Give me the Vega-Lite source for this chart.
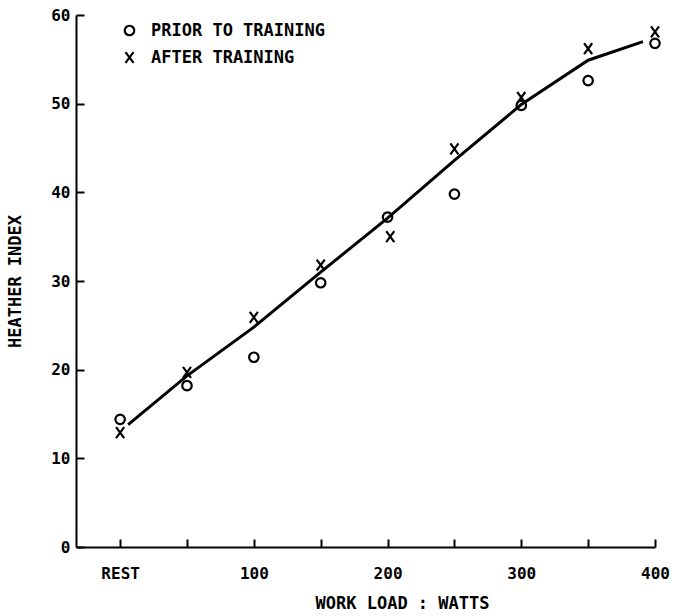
{
  "$schema": "https://vega.github.io/schema/vega-lite/v6.json",
  "width": 579,
  "height": 532,
  "autosize": {"type": "none"},
  "padding": {"left": 76, "top": 15, "right": 22, "bottom": 69},
  "background": "white",
  "config": {
    "view": {"stroke": null},
    "font": "DejaVu Sans Mono",
    "axis": {
      "domainColor": "black",
      "domainWidth": 2,
      "tickColor": "black",
      "tickWidth": 2,
      "tickSize": -8,
      "grid": false,
      "labelFont": "DejaVu Sans Mono",
      "labelFontSize": 16,
      "labelFontWeight": "bold",
      "labelColor": "black",
      "titleFont": "DejaVu Sans Mono",
      "titleFontSize": 17,
      "titleFontWeight": "bold",
      "titleColor": "black"
    }
  },
  "datasets": {
    "fit": [
      {"watts": 6, "index": 13.8},
      {"watts": 50, "index": 19.3},
      {"watts": 100, "index": 24.8},
      {"watts": 150, "index": 31.0},
      {"watts": 200, "index": 37.1},
      {"watts": 250, "index": 43.6},
      {"watts": 300, "index": 49.9},
      {"watts": 350, "index": 54.9},
      {"watts": 391, "index": 57.0}
    ],
    "obs": [
      {"watts": 0, "index": 14.4, "group": "PRIOR TO TRAINING"},
      {"watts": 50, "index": 18.2, "group": "PRIOR TO TRAINING"},
      {"watts": 100, "index": 21.4, "group": "PRIOR TO TRAINING"},
      {"watts": 150, "index": 29.8, "group": "PRIOR TO TRAINING"},
      {"watts": 200, "index": 37.2, "group": "PRIOR TO TRAINING"},
      {"watts": 250, "index": 39.8, "group": "PRIOR TO TRAINING"},
      {"watts": 300, "index": 49.8, "group": "PRIOR TO TRAINING"},
      {"watts": 350, "index": 52.6, "group": "PRIOR TO TRAINING"},
      {"watts": 400, "index": 56.8, "group": "PRIOR TO TRAINING"},
      {"watts": 0, "index": 12.9, "group": "AFTER TRAINING"},
      {"watts": 50, "index": 19.7, "group": "AFTER TRAINING"},
      {"watts": 100, "index": 25.9, "group": "AFTER TRAINING"},
      {"watts": 150, "index": 31.8, "group": "AFTER TRAINING"},
      {"watts": 202, "index": 35.0, "group": "AFTER TRAINING"},
      {"watts": 250, "index": 44.9, "group": "AFTER TRAINING"},
      {"watts": 300, "index": 50.7, "group": "AFTER TRAINING"},
      {"watts": 350, "index": 56.2, "group": "AFTER TRAINING"},
      {"watts": 400, "index": 58.1, "group": "AFTER TRAINING"}
    ]
  },
  "encoding": {
    "x": {
      "field": "watts",
      "type": "quantitative",
      "scale": {"domain": [-33, 400], "nice": false, "zero": false},
      "axis": {
        "title": "WORK LOAD : WATTS",
        "values": [0, 50, 100, 150, 200, 250, 300, 350, 400],
        "labelExpr": "datum.value == 0 ? 'REST' : (datum.value % 100 == 0 ? datum.label : '')",
        "labelPadding": 26,
        "labelFlush": false,
        "titleAnchor": "start",
        "titleX": 239,
        "titleY": 48,
        "titleBaseline": "top"
      }
    },
    "y": {
      "field": "index",
      "type": "quantitative",
      "scale": {"domain": [0, 60], "nice": false},
      "axis": {
        "title": "HEATHER INDEX",
        "values": [0, 10, 20, 30, 40, 50, 60],
        "labelPadding": 14,
        "labelFlush": false,
        "titlePadding": 26
      }
    }
  },
  "layer": [
    {
      "data": {"name": "fit"},
      "mark": {"type": "line", "color": "black", "strokeWidth": 3}
    },
    {
      "data": {"name": "obs"},
      "mark": {"type": "point", "filled": false, "color": "black", "strokeWidth": 2.2, "size": 90, "opacity": 1},
      "encoding": {
        "shape": {
          "field": "group",
          "type": "nominal",
          "scale": {
            "domain": ["PRIOR TO TRAINING", "AFTER TRAINING"],
            "range": ["circle", "M-0.85,-1.15L0.85,1.15M-0.85,1.15L0.85,-1.15"]
          },
          "legend": {
            "title": null,
            "orient": "none",
            "legendX": 45,
            "legendY": 7,
            "symbolStrokeColor": "black",
            "symbolStrokeWidth": 2.2,
            "symbolSize": 90,
            "symbolFillColor": "transparent",
            "labelFont": "DejaVu Sans Mono",
            "labelFontSize": 17,
            "labelFontWeight": "bold",
            "labelColor": "black",
            "labelOffset": 13,
            "labelLimit": 400,
            "rowPadding": 7
          }
        }
      }
    }
  ]
}
